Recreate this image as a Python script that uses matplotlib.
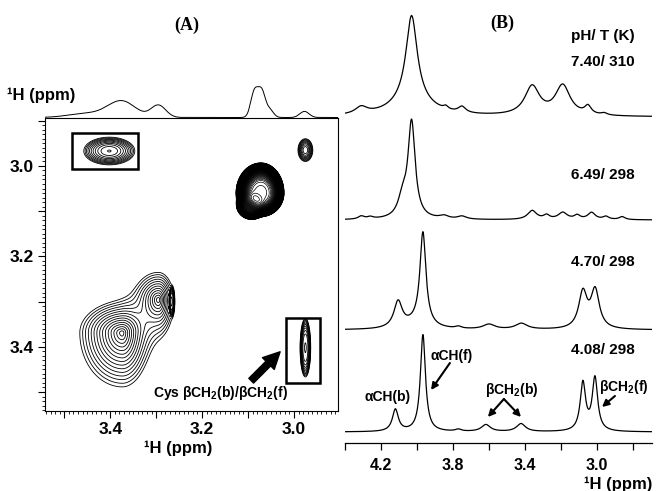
import numpy as np
import matplotlib
matplotlib.use("Agg")
import matplotlib.pyplot as plt
from matplotlib.ticker import MultipleLocator, FuncFormatter
from matplotlib.patches import Rectangle

plt.rcParams["font.family"] = ["Liberation Sans", "DejaVu Sans"]
plt.rcParams["font.weight"] = "bold"
plt.rcParams["mathtext.fontset"] = "custom"
plt.rcParams["mathtext.rm"] = "Liberation Sans:bold"
plt.rcParams["mathtext.bf"] = "Liberation Sans:bold"
plt.rcParams["mathtext.it"] = "Liberation Sans:bold:italic"

# ---- panel B: 1D spectra (peak position ppm, height, half width) ----
labels_b = ["7.40/ 310", "6.49/ 298", "4.70/ 298", "4.08/ 298"]

pos_740 = [4.31, 4.03, 4.03, 3.84, 3.75, 3.36, 3.19, 3.05, 2.96]
hgt_740 = [7, 86, 15, 3, 6, 29, 30, 8, 2]
wid_740 = [0.04, 0.038, 0.13, 0.015, 0.025, 0.05, 0.05, 0.022, 0.02]

pos_649 = [4.31, 4.26, 4.08, 4.03, 3.85, 3.75, 3.36, 3.28, 3.19, 3.11, 3.03, 2.95, 2.86]
hgt_649 = [3, 2, 18, 96, 3, 3, 9, 4, 7, 4, 7, 3, 3]
wid_649 = [0.02, 0.02, 0.03, 0.024, 0.03, 0.03, 0.03, 0.02, 0.03, 0.02, 0.025, 0.02, 0.02]

pos_470 = [4.105, 4.00, 3.967, 3.77, 3.60, 3.42, 3.078, 3.010]
hgt_470 = [26, 6, 92, 2, 5, 6, 36, 38]
wid_470 = [0.028, 0.08, 0.02, 0.02, 0.04, 0.04, 0.028, 0.028]

pos_408 = [4.12, 3.967, 3.77, 3.617, 3.422, 3.078, 3.011]
hgt_408 = [22, 97, 2, 7, 8, 48, 53]
wid_408 = [0.02, 0.017, 0.02, 0.03, 0.03, 0.018, 0.018]

# ---- panel A: projection (position, height, sigma) ----
proj_pos = [3.45, 3.375, 3.295, 3.086, 3.070, 3.052, 2.977]
proj_hgt = [4, 16, 12, 25, 25, 7, 6]
proj_sig = [0.04, 0.03, 0.016, 0.008, 0.008, 0.008, 0.01]

# ---- panel A: 2D peaks (x, y, widths toward low / high ppm, amplitude, shape power) ----
pk_x = [3.374, 3.295, 3.266, 2.975, 3.402, 2.975]
pk_y = [3.369, 3.296, 3.300, 2.965, 2.967, 3.402]
pk_sx_lo = [0.0110, 0.0076, 0.004, 0.009, 0.029, 0.0075]
pk_sx_hi = [0.0170, 0.0115, 0.004, 0.009, 0.029, 0.0075]
pk_sy_lo = [0.0125, 0.0138, 0.022, 0.014, 0.016, 0.042]
pk_sy_hi = [0.0220, 0.0170, 0.022, 0.014, 0.016, 0.042]
pk_amp = [0.6, 0.35, 0.25, 0.2, 0.25, 0.25]
pk_pow = [1, 1, 4, 2, 2, 3]

# strong diagonal peak near 3.07 ppm (drawn with dense contours)
dn_x = [3.072, 3.092]
dn_y = [3.060, 3.085]
dn_sx_lo = [0.028, 0.020]
dn_sx_hi = [0.030, 0.020]
dn_sy_lo = [0.037, 0.020]
dn_sy_hi = [0.029, 0.020]
dn_amp = [8.0, 2.0]
dn_pow = [4, 4]


def lorentz(x, pos, hgt, wid):
    y = np.zeros_like(x)
    for p, h, w in zip(pos, hgt, wid):
        y += h / (1 + ((x - p) / w) ** 2)
    return y


def gauss(x, pos, hgt, sig):
    y = np.zeros_like(x)
    for p, h, s in zip(pos, hgt, sig):
        y += h * np.exp(-0.5 * ((x - p) / s) ** 2)
    return y


def field(X, Y, xs, ys, sxl, sxh, syl, syh, amps, pows):
    Z = np.zeros_like(X)
    for x0, y0, a1, a2, b1, b2, a, pw in zip(xs, ys, sxl, sxh, syl, syh, amps, pows):
        dx, dy = X - x0, Y - y0
        sx = np.where(dx >= 0, a2, a1)
        sy = np.where(dy >= 0, b2, b1)
        g = (dx / sx) ** 2 + (dy / sy) ** 2
        Z += a * np.exp(-0.5 * g ** (pw / 2))
    return Z


W, H = 658, 491
def fx(x):
    return x / W
def fy(y):
    return 1 - y / H


fig = plt.figure(figsize=(6.58, 4.91), dpi=100)

# ---------- panel A ----------
ax_a = fig.add_axes([fx(45), fy(411), fx(338) - fx(45), fy(118) - fy(411)])
xa = np.linspace(2.90, 3.55, 500)
X, Y = np.meshgrid(xa, xa)
Z = field(X, Y, pk_x, pk_y, pk_sx_lo, pk_sx_hi, pk_sy_lo, pk_sy_hi, pk_amp, pk_pow)
ax_a.contour(X, Y, Z, levels=0.04 * 1.2 ** np.arange(0, 30), colors="k", linewidths=0.6)
Zd = field(X, Y, dn_x, dn_y, dn_sx_lo, dn_sx_hi, dn_sy_lo, dn_sy_hi, dn_amp, dn_pow)
ax_a.contour(X, Y, Zd, levels=0.04 * 1.07 ** np.arange(0, 90), colors="k", linewidths=0.5)

ax_a.add_patch(Rectangle((3.340, 2.927), 0.144, 0.080, fill=False, lw=1.8, ec="k"))
ax_a.add_patch(Rectangle((2.944, 3.336), 0.074, 0.144, fill=False, lw=1.8, ec="k"))
ax_a.annotate("", xy=(3.030, 3.411), xytext=(3.093, 3.475),
              arrowprops=dict(arrowstyle="simple,head_width=1.0,head_length=1.0,tail_width=0.4",
                              color="k", mutation_scale=12, shrinkA=0, shrinkB=0))
ax_a.text(3.161, 3.502, r"Cys βCH$_2$(b)/βCH$_2$(f)", ha="center", va="center", fontsize=10)

ax_a.set_xlim(3.542, 2.904)
ax_a.set_ylim(3.542, 2.894)
for axis in (ax_a.xaxis, ax_a.yaxis):
    axis.set_major_locator(MultipleLocator(0.1))
    axis.set_minor_locator(MultipleLocator(0.01))
    axis.set_major_formatter(FuncFormatter(lambda v, p: f"{v:.1f}" if round(v * 10) % 2 == 0 else ""))
ax_a.tick_params(which="major", direction="out", length=5, width=0.8, labelsize=12.5, pad=3)
ax_a.tick_params(which="minor", direction="out", length=2.5, width=0.6)
for s in ax_a.spines.values():
    s.set_linewidth(0.8)

# projection above panel A
ax_p = fig.add_axes([fx(45), fy(118), fx(338) - fx(45), fy(82) - fy(118)])
xp = np.linspace(2.904, 3.542, 800)
ax_p.plot(xp, gauss(xp, proj_pos, proj_hgt, proj_sig), color="k", lw=0.7)
ax_p.set_xlim(3.542, 2.904)
ax_p.set_ylim(-0.5, 35)
ax_p.axis("off")

fig.text(fx(7), fy(95), "¹H (ppm)", ha="left", va="center", fontsize=12)
fig.text(fx(178), fy(448), "¹H (ppm)", ha="center", va="center", fontsize=12)
fig.text(fx(187), fy(25), "(A)", ha="center", va="center", fontsize=13,
         family=["Liberation Serif", "DejaVu Serif"], weight="bold")

# ---------- panel B ----------
ax_b = fig.add_axes([fx(345), fy(443), fx(652) - fx(345), fy(0) - fy(443)])
xb = np.linspace(4.4, 2.694, 1500)
traces = [(pos_740, hgt_740, wid_740), (pos_649, hgt_649, wid_649),
          (pos_470, hgt_470, wid_470), (pos_408, hgt_408, wid_408)]
offsets = [326, 223, 113, 11]
for (p, h, w), off in zip(traces, offsets):
    ax_b.plot(xb, lorentz(xb, p, h, w) + off, color="k", lw=0.9)

ax_b.set_xlim(4.4, 2.694)
ax_b.set_ylim(0, 443)
for side in ("left", "right", "top"):
    ax_b.spines[side].set_visible(False)
ax_b.spines["bottom"].set_linewidth(0.9)
ax_b.set_yticks([])
ax_b.xaxis.set_major_locator(MultipleLocator(0.2))
ax_b.xaxis.set_major_formatter(FuncFormatter(lambda v, p: f"{v:.1f}" if round(v * 10) % 4 == 2 else ""))
ax_b.tick_params(axis="x", direction="out", length=5, width=0.9, labelsize=11.5, pad=6)

ann = dict(arrowstyle="-|>", lw=1.5, color="k", mutation_scale=10, shrinkA=0, shrinkB=0)
ax_b.text(3.806, 87, "αCH(f)", ha="center", va="center", fontsize=10)
ax_b.annotate("", xy=(3.922, 53), xytext=(3.817, 80), arrowprops=ann)
ax_b.text(4.161, 46, "αCH(b)", ha="center", va="center", fontsize=10)
ax_b.text(3.472, 53, r"βCH$_2$(b)", ha="center", va="center", fontsize=10)
ax_b.annotate("", xy=(3.606, 26), xytext=(3.517, 44), arrowprops=ann)
ax_b.annotate("", xy=(3.422, 26), xytext=(3.517, 44), arrowprops=ann)
ax_b.text(2.85, 56, r"βCH$_2$(f)", ha="center", va="center", fontsize=10)
ax_b.annotate("", xy=(2.972, 36), xytext=(2.90, 47), arrowprops=ann)

fig.text(fx(635), fy(36), "pH/ T (K)", ha="right", va="center", fontsize=11)
for lab, yy in zip(labels_b, [62, 175, 262, 350]):
    fig.text(fx(635), fy(yy), lab, ha="right", va="center", fontsize=11)
fig.text(fx(502), fy(23), "(B)", ha="center", va="center", fontsize=13,
         family=["Liberation Serif", "DejaVu Serif"], weight="bold")
fig.text(fx(652), fy(484), "¹H (ppm)", ha="right", va="center", fontsize=12)

fig.savefig("out.png", dpi=100)
